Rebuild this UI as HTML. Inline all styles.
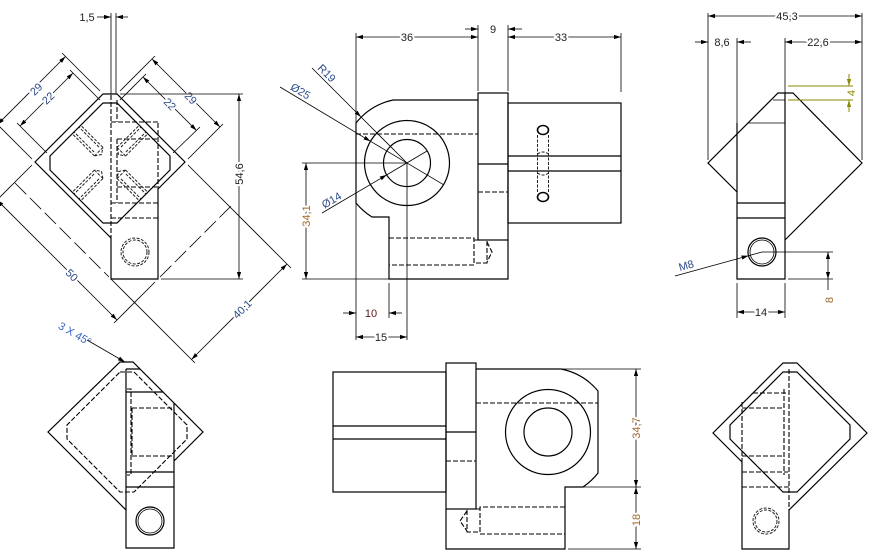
<!DOCTYPE html>
<html><head><meta charset="utf-8"><style>
html,body{margin:0;padding:0;background:#fff;}
svg{display:block}
.p{stroke:#000;stroke-width:1.2;fill:none}
.h{stroke:#000;stroke-width:1.1;fill:none;stroke-dasharray:5 2}
.hs{stroke:#222;stroke-width:1;fill:none;stroke-dasharray:3 1.5}
.d{stroke:#000;stroke-width:0.8;fill:none}
.c{stroke:#000;stroke-width:0.8;fill:none;stroke-dasharray:16 5}
.yl{stroke:#8a8a00;stroke-width:1;fill:none}
.t{font-family:"Liberation Sans",sans-serif;font-size:11px;fill:#222;text-anchor:middle;paint-order:stroke;stroke:#fff;stroke-width:4px;stroke-linejoin:round}
.n{font-family:"Liberation Sans",sans-serif;font-size:11px;fill:#2d4a8a;text-anchor:middle}
.b{fill:#2d4a8a}
.o{fill:#a0692a}
.y{fill:#8a8a00}
</style></head><body>
<svg width="882" height="560" viewBox="0 0 882 560" xmlns="http://www.w3.org/2000/svg">
<defs>
<marker id="a" viewBox="0 0 10 6" refX="10" refY="3" markerWidth="7" markerHeight="5" markerUnits="userSpaceOnUse" orient="auto-start-reverse"><path d="M0,0L10,3L0,6z" fill="#000"/></marker>
<marker id="ay" viewBox="0 0 10 6" refX="10" refY="3" markerWidth="7" markerHeight="5" markerUnits="userSpaceOnUse" orient="auto-start-reverse"><path d="M0,0L10,3L0,6z" fill="#8a8a00"/></marker>
</defs>

<!-- ================= TOP-LEFT VIEW ================= -->
<path class="d" d="M111,13V94M116,13V94"/>
<line class="d" x1="97" y1="17" x2="111" y2="17" marker-end="url(#a)"/>
<line class="d" x1="128" y1="17" x2="116" y2="17" marker-end="url(#a)"/>
<text class="t" x="87" y="21">1,5</text>

<!-- 29 left -->
<path class="d" d="M100,91L62,53M32,159L-6,121"/>
<line class="d" x1="-2.5" y1="124.5" x2="65.5" y2="56.5" marker-start="url(#a)" marker-end="url(#a)"/>
<text class="t b" transform="translate(36,89) rotate(-45)" dy="4">29</text>
<!-- 22 left -->
<path class="d" d="M100,100L70,70M47,153L17,123"/>
<line class="d" x1="20" y1="126" x2="73" y2="73" marker-start="url(#a)" marker-end="url(#a)"/>
<text class="t b" transform="translate(48,98) rotate(-45)" dy="4">22</text>
<!-- 29 right -->
<path class="d" d="M120,91L155,56M188,159L223,124"/>
<line class="d" x1="152" y1="59" x2="220" y2="127" marker-start="url(#a)" marker-end="url(#a)"/>
<text class="t b" transform="translate(191,98) rotate(45)" dy="4">29</text>
<!-- 22 right -->
<path class="d" d="M120,100L146,74M173,153L200,127"/>
<line class="d" x1="143" y1="77" x2="196.5" y2="130.5" marker-start="url(#a)" marker-end="url(#a)"/>
<text class="t b" transform="translate(170,104) rotate(45)" dy="4">22</text>
<!-- 54,6 -->
<path class="d" d="M120,94H243M161,279H243"/>
<line class="d" x1="239" y1="94" x2="239" y2="279" marker-start="url(#a)" marker-end="url(#a)"/>
<text class="t" transform="translate(239,174) rotate(-90)" dy="4">54,6</text>
<!-- 40,1 -->
<path class="d" d="M188,165L291,268M111,279L195,363"/>
<line class="d" x1="191.5" y1="359.5" x2="287" y2="264" marker-start="url(#a)" marker-end="url(#a)"/>
<text class="t b" transform="translate(242,309) rotate(-45)" dy="4">40,1</text>
<!-- 50 -->
<path class="d" d="M32,165L-5,202M155,282L114,323"/>
<line class="d" x1="-3" y1="200" x2="117" y2="320" marker-start="url(#a)" marker-end="url(#a)"/>
<text class="t b" transform="translate(72,275) rotate(45)" dy="4">50</text>
<!-- construction dashes -->
<path class="c" d="M15,183L109,277M160,277L232,205"/>

<!-- part -->
<path class="p" d="M111,238L35,162L103,94L117,94L185,162L158,189"/>
<path class="p" d="M111,238V279H158V189"/>
<path class="p" d="M103,103H117L170,156V170L117,223H103L50,170V156Z"/>
<path class="h" d="M111,95V238M117,100V122M111,122H158M117,139V203M117,139H158M117,187H158M111,203H158M111,218H158M158,123V189"/>
<g transform="translate(110,163) rotate(225)"><path class="hs" d="M16,-6H47M16,6H47M16,-6V6M19,-3.5H47M19,3.5H47M16,-6L12,0L16,6"/></g>
<g transform="translate(110,163) rotate(315)"><path class="hs" d="M16,-6H47M16,6H47M16,-6V6M19,-3.5H47M19,3.5H47M16,-6L12,0L16,6"/></g>
<g transform="translate(110,163) rotate(135)"><path class="hs" d="M16,-6H47M16,6H47M16,-6V6M19,-3.5H47M19,3.5H47M16,-6L12,0L16,6"/></g>
<g transform="translate(110,163) rotate(45)"><path class="hs" d="M16,-6H47M16,6H47M16,-6V6M19,-3.5H47M19,3.5H47M16,-6L12,0L16,6"/></g>
<circle class="hs" cx="135" cy="252" r="14"/>
<circle class="hs" cx="135" cy="252" r="12"/>

<!-- ================= TOP-MIDDLE VIEW ================= -->
<path class="d" d="M356,33V340M478,25V91M508,25V91M621,33V92"/>
<line class="d" x1="356" y1="37" x2="478" y2="37" marker-start="url(#a)" marker-end="url(#a)"/>
<text class="t" x="407" y="41">36</text>
<line class="d" x1="508" y1="37" x2="621" y2="37" marker-start="url(#a)" marker-end="url(#a)"/>
<text class="t" x="561" y="41">33</text>
<line class="d" x1="465" y1="29" x2="478" y2="29" marker-end="url(#a)"/>
<line class="d" x1="522" y1="29" x2="508" y2="29" marker-end="url(#a)"/>
<text class="t" x="493" y="33">9</text>

<!-- body -->
<path class="p" d="M478,100L393,100A64.6,64.6 0 0 0 356,123L356,203A64.6,64.6 0 0 0 372,217L389,217L389,279L508,279L508,240"/>
<path class="h" d="M356,134H478"/>
<circle class="p" cx="407" cy="163" r="42.5"/>
<circle class="p" cx="407" cy="163" r="23.5"/>
<rect class="p" x="478" y="93" width="30" height="147"/>
<path class="p" d="M478,164H508"/>
<path class="h" d="M478,192H508"/>
<rect class="p" x="508" y="103" width="113" height="120"/>
<path class="p" d="M508,156H621M508,171H621"/>
<ellipse cx="543" cy="130" rx="5.5" ry="4.5" fill="none" stroke="#000" stroke-width="1.6"/>
<ellipse cx="543" cy="197" rx="5.5" ry="4.5" fill="none" stroke="#000" stroke-width="1.6"/>
<path class="hs" d="M537.5,135V192M548.5,135V192M537.5,154Q543,150 548.5,154M537.5,173Q543,177 548.5,173"/>
<path class="h" d="M389,238H474V265H389M474,240H487V263H474M487,242L492,252L487,262"/>

<!-- dims -->
<path class="d" d="M302,163H407M302,279H389M407,163V340M389,283V318"/>
<line class="d" x1="306" y1="163" x2="306" y2="279" marker-start="url(#a)" marker-end="url(#a)"/>
<text class="t o" transform="translate(306,216) rotate(-90)" dy="4">34,1</text>
<line class="d" x1="343" y1="313" x2="356" y2="313" marker-end="url(#a)"/>
<line class="d" x1="402" y1="313" x2="389" y2="313" marker-end="url(#a)"/>
<text class="t" x="371" y="317" style="fill:#5a1a1a">10</text>
<line class="d" x1="356" y1="337" x2="407" y2="337" marker-start="url(#a)" marker-end="url(#a)"/>
<text class="t" x="381" y="341">15</text>
<!-- leaders -->
<line class="d" x1="312" y1="68" x2="361" y2="117" marker-end="url(#a)"/>
<line class="d" x1="361" y1="117" x2="407" y2="163"/>
<text class="n" transform="translate(322,78) rotate(45)" y="-3">R19</text>
<line class="d" x1="280" y1="87" x2="370.5" y2="141.3" marker-end="url(#a)"/>
<line class="d" x1="370.5" y1="141.3" x2="443.5" y2="184.7"/>
<text class="n" transform="translate(297,97) rotate(30.7)" y="-3">Ø25</text>
<line class="d" x1="322" y1="213" x2="386.7" y2="174.9" marker-end="url(#a)"/>
<line class="d" x1="386.7" y1="174.9" x2="427" y2="151"/>
<text class="n" transform="translate(335,206) rotate(-30.5)" y="-3">Ø14</text>

<!-- ================= TOP-RIGHT VIEW ================= -->
<path class="d" d="M708,13V160M862,13V160M737,38V279M785,38V279"/>
<line class="d" x1="708" y1="16" x2="862" y2="16" marker-start="url(#a)" marker-end="url(#a)"/>
<text class="t" x="787" y="20">45,3</text>
<line class="d" x1="695" y1="42" x2="708" y2="42" marker-end="url(#a)"/>
<line class="d" x1="751" y1="42" x2="737" y2="42" marker-end="url(#a)"/>
<text class="t" x="722" y="46">8,6</text>
<line class="d" x1="785" y1="42" x2="862" y2="42" marker-start="url(#a)" marker-end="url(#a)"/>
<text class="t" x="818" y="46">22,6</text>
<path class="p" d="M737,192L708,163L778,93L793,93L862,163L785,240"/>
<path class="p" d="M737,123V279H785V93"/>
<path class="d" d="M773,100H785M748,123H785"/>
<path class="p" d="M737,203H785M737,218H785"/>
<circle class="p" cx="762" cy="252" r="14"/>
<circle class="d" cx="762" cy="252" r="12"/>
<line class="d" x1="675" y1="276" x2="748.5" y2="255.7" marker-end="url(#a)"/>
<line class="d" x1="748.5" y1="255.7" x2="762" y2="252"/>
<text class="n" transform="translate(688,272) rotate(-15.4)" y="-3">M8</text>
<path class="d" d="M762,252H833M788,279H833M828,279V290"/>
<line class="d" x1="828" y1="252" x2="828" y2="279" marker-start="url(#a)" marker-end="url(#a)"/>
<text class="t o" transform="translate(829,300) rotate(-90)" dy="4">8</text>
<path class="d" d="M737,283V318M785,283V318"/>
<line class="d" x1="737" y1="312" x2="785" y2="312" marker-start="url(#a)" marker-end="url(#a)"/>
<text class="t" x="761" y="316">14</text>
<path class="yl" d="M788,86H853M788,100H853"/>
<line class="yl" x1="849" y1="74" x2="849" y2="86" marker-end="url(#ay)"/>
<line class="yl" x1="849" y1="112" x2="849" y2="100" marker-end="url(#ay)"/>
<text class="t y" transform="translate(851,93) rotate(-90)" dy="4" style="stroke-width:2px">4</text>

<!-- ================= BOTTOM-LEFT VIEW ================= -->
<text class="n" transform="translate(73,337) rotate(30)" style="fill:#3a64c8">3 X 45°</text>
<line class="d" x1="87" y1="340" x2="125" y2="362" marker-end="url(#a)"/>
<path class="p" d="M126,510L48,432L120,362L133,362L203,432L174,461"/>
<path class="p" d="M126,369V548H174V403M126,369H140M126,392H163M126,472H174M126,487H174"/>
<path class="h" d="M120,372H134L187,425V439L134,492H120L67,439V425Z"/>
<path class="h" d="M132,408V456M132,408H173M132,456H173M127,389H131V475H127"/>
<circle class="p" cx="150" cy="521" r="14"/>
<circle class="d" cx="150" cy="521" r="12"/>

<!-- ================= BOTTOM-MIDDLE VIEW ================= -->
<rect class="p" x="333" y="372" width="113" height="120"/>
<path class="p" d="M333,426H446M333,439H446"/>
<rect class="p" x="446" y="363" width="30" height="146"/>
<path class="p" d="M446,432H476"/>
<path class="h" d="M446,461H476"/>
<path class="p" d="M476,369L561,369A64.6,64.6 0 0 1 598,391L598,473A64.6,64.6 0 0 1 583,487L565,487L565,549L446,549L446,509"/>
<path class="h" d="M476,403H598"/>
<circle class="p" cx="548" cy="432" r="42.5"/>
<circle class="p" cx="548" cy="432" r="24"/>
<path class="h" d="M565,507H480V534H565M480,509H467V532H480M467,511L460,521L467,531"/>
<path class="d" d="M561,369H641M583,487H641M568,549H641"/>
<line class="d" x1="636" y1="369" x2="636" y2="487" marker-start="url(#a)" marker-end="url(#a)"/>
<text class="t o" transform="translate(636,428) rotate(-90)" dy="4">34,7</text>
<line class="d" x1="636" y1="487" x2="636" y2="549" marker-start="url(#a)" marker-end="url(#a)"/>
<text class="t o" transform="translate(636,520) rotate(-90)" dy="4">18</text>

<!-- ================= BOTTOM-RIGHT VIEW ================= -->
<path class="p" d="M742,462L713,433L783,363L797,363L867,433L789,510"/>
<path class="p" d="M742,462V549H789V510"/>
<path class="p" d="M783,372H797L850,425V439L797,492H783L730,439V425Z"/>
<path class="h" d="M742,402V462M789,369V510M753,393H788M742,408H783M742,456H783M742,472H788M742,487H789M784,389V475"/>
<circle class="hs" cx="766" cy="521" r="13"/>
<circle class="hs" cx="766" cy="521" r="11"/>
</svg>
</body></html>
